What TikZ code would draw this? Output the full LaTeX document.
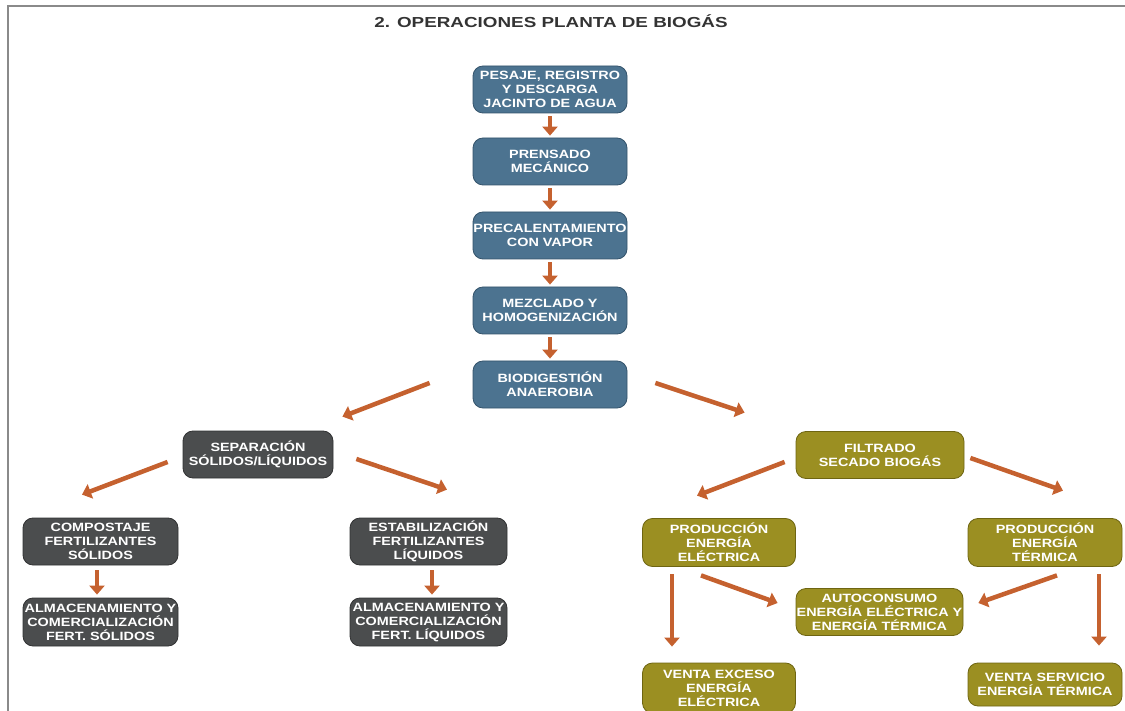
\documentclass[tikz,border=0pt]{standalone}
\usepackage{fontspec}
\setmainfont{Liberation Sans}
\newfontfamily\boxfont[FakeStretch=1.2]{Liberation Sans Bold}
\newfontfamily\titlefont[FakeStretch=1.3]{Liberation Sans Bold}
\usetikzlibrary{arrows.meta}

\definecolor{stageblue}{HTML}{4C7390}
\definecolor{stageblueedge}{HTML}{34536B}
\definecolor{stagegray}{HTML}{4B4D4E}
\definecolor{stagegrayedge}{HTML}{313233}
\definecolor{stageolive}{HTML}{9B8F22}
\definecolor{stageoliveedge}{HTML}{6E6512}
\definecolor{flowcol}{HTML}{C5612F}
\definecolor{framegray}{HTML}{8A8A8A}
\definecolor{titlegray}{HTML}{333333}

\tikzset{
  stagebox/.style={rounded corners=10pt, line width=0.8pt, align=center,
    text=white, inner sep=0pt, minimum width=154pt, minimum height=47pt,
    font=\boxfont\fontsize{12}{14}\selectfont},
  bluebox/.style={stagebox, fill=stageblue, draw=stageblueedge},
  graybox/.style={stagebox, fill=stagegray, draw=stagegrayedge},
  olivebox/.style={stagebox, fill=stageolive, draw=stageoliveedge},
  flow/.style={draw=flowcol, line width=4.5pt,
    -{Triangle[length=9pt,width=15pt]}, color=flowcol},
}

\begin{document}
\begin{tikzpicture}[x=1pt,y=-1pt]
\useasboundingbox (0,0) rectangle (1125,711);

% page frame (top and left edges)
\draw[framegray, line width=2pt] (7,6.5) -- (1125,6.5);
\draw[framegray, line width=2pt] (7.5,6) -- (7.5,711);

\node[text=titlegray, font=\titlefont\fontsize{14.5}{17}\selectfont] (title) at (551,21) {2. OPERACIONES PLANTA DE BIOGÁS};

% main line
\node[bluebox] (pes) at (550,89.5) {PESAJE, REGISTRO\\Y DESCARGA\\JACINTO DE AGUA};
\node[bluebox] (pre) at (550,161.5) {PRENSADO\\MECÁNICO};
\node[bluebox] (cal) at (550,235.5) {PRECALENTAMIENTO\\CON VAPOR};
\node[bluebox] (mez) at (550,310.5) {MEZCLADO Y\\HOMOGENIZACIÓN};
\node[bluebox] (bio) at (550,384.5) {BIODIGESTIÓN\\ANAEROBIA};

% digestate branch
\node[graybox, minimum width=150pt] (sep) at (258,454.5) {SEPARACIÓN\\SÓLIDOS/LÍQUIDOS};
\node[graybox, minimum width=155pt] (com) at (100.5,541.5) {COMPOSTAJE\\FERTILIZANTES\\SÓLIDOS};
\node[graybox, minimum width=157pt] (est) at (428.5,541.5) {ESTABILIZACIÓN\\FERTILIZANTES\\LÍQUIDOS};
\node[graybox, minimum width=155pt, minimum height=48pt] (alS) at (100.5,622) {ALMACENAMIENTO Y\\COMERCIALIZACIÓN\\FERT. SÓLIDOS};
\node[graybox, minimum width=157pt, minimum height=48pt] (alL) at (428.5,622) {ALMACENAMIENTO Y\\COMERCIALIZACIÓN\\FERT. LÍQUIDOS};

% biogas branch
\node[olivebox, minimum width=168pt] (fil) at (880,455) {FILTRADO\\SECADO BIOGÁS};
\node[olivebox, minimum width=153pt, minimum height=48pt] (pee) at (719,542.5) {PRODUCCIÓN\\ENERGÍA\\ELÉCTRICA};
\node[olivebox, minimum height=48pt] (pet) at (1045,542.5) {PRODUCCIÓN\\ENERGÍA\\TÉRMICA};
\node[olivebox, minimum width=167pt] (aut) at (879.5,612) {AUTOCONSUMO\\ENERGÍA ELÉCTRICA Y\\ENERGÍA TÉRMICA};
\node[olivebox, minimum width=153pt, minimum height=50pt] (vex) at (719,688) {VENTA EXCESO\\ENERGÍA\\ELÉCTRICA};
\node[olivebox, minimum height=43pt] (vse) at (1045,684.5) {VENTA SERVICIO\\ENERGÍA TÉRMICA};

% connectors along the main line
\draw[flow, shorten <=3pt, shorten >=2pt] (pes.south) -- (pre.north);
\draw[flow, shorten <=3pt, shorten >=2pt] (pre.south) -- (cal.north);
\draw[flow, shorten <=3pt, shorten >=2pt] (cal.south) -- (mez.north);
\draw[flow, shorten <=3pt, shorten >=2pt] (mez.south) -- (bio.north);

% split after digestion
\draw[flow] ([shift={(-43,-1.5)}]bio.west) -- ([shift={(9,-14)}]sep.north east);
\draw[flow] ([shift={(28,-1.5)}]bio.east) -- ([shift={(-51,-18.5)}]fil.north west);

% solid / liquid fractions
\draw[flow] ([shift={(-15,7.5)}]sep.west) -- ([shift={(-18.5,-23)}]com.north);
\draw[flow] ([shift={(23,4.5)}]sep.east) -- ([shift={(18.5,-28)}]est.north);
\draw[flow] ([shift={(-3.5,5)}]com.south) -- ([shift={(-3.5,-3)}]alS.north);
\draw[flow] ([shift={(3.5,5)}]est.south) -- ([shift={(3.5,-3)}]alL.north);

% energy use of the biogas
\draw[flow] ([shift={(-11,7)}]fil.west) -- ([shift={(-22,-22.5)}]pee.north);
\draw[flow] ([shift={(6,3)}]fil.east) -- ([shift={(18,-27.5)}]pet.north);
\draw[flow] ([shift={(-47,7.5)}]pee.south) -- ([shift={(-47,-16)}]vex.north);
\draw[flow] ([shift={(-18,8.5)}]pee.south) -- ([shift={(-18,-9)}]aut.west);
\draw[flow] ([shift={(12,8.5)}]pet.south) -- ([shift={(15,-9)}]aut.east);
\draw[flow] ([shift={(54,7.5)}]pet.south) -- ([shift={(54,-17)}]vse.north);
\end{tikzpicture}
\end{document}
